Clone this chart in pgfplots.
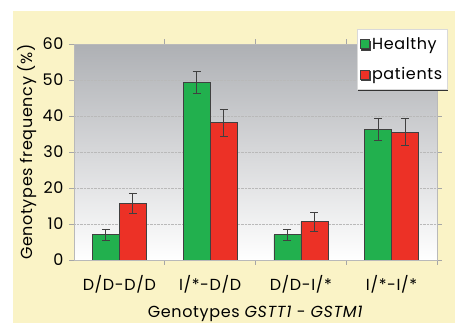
\documentclass[border=0pt]{standalone}
\usepackage{fontspec}
\setmainfont{Poppins}[LetterSpace=4]
\usepackage{pgfplots}
\pgfplotsset{compat=1.18}
\usetikzlibrary{shadows}
\definecolor{hgreen}{RGB}{34,176,78}
\definecolor{pred}{RGB}{236,49,38}
\definecolor{bgyellow}{RGB}{250,243,198}
\definecolor{plottop}{RGB}{174,176,180}
\begin{document}
\begin{tikzpicture}[x=1pt,y=1pt]
\fill[white] (0,0) rectangle (455,323);
\fill[bgyellow] (13,0) rectangle (455,312);
\begin{axis}[
  at={(74pt,63pt)}, anchor=south west,
  scale only axis, width=363pt, height=216pt,
  font=\fontsize{16}{18}\selectfont,
  /pgf/number format/assume math mode=true,
  axis background/.style={shade, top color=plottop, bottom color=white},
  axis line style={draw=gray!55},
  ybar=0pt, bar width=27pt,
  xmin=-0.5, xmax=3.5, ymin=0, ymax=60,
  ytick={0,10,...,60},
  xtick={0.5,1.5,2.5,3.5},
  xticklabels={},
  extra x ticks={0,1,2,3},
  extra x tick labels={D/D-D/D, I/*-D/D, D/D-I/*, I/*-I/*},
  extra x tick style={major tick length=0pt},
  tick align=outside,
  major tick length=5pt,
  tick style={draw=gray!70, line width=0.8pt},
  ymajorgrids,
  grid style={densely dotted, gray!55},
  xlabel={Genotypes \textit{GSTT1} - \textit{GSTM1}},
  ylabel={Genotypes frequency (\%)},
  xlabel style={yshift=-1pt},
  ylabel style={yshift=-1pt},
  xticklabel style={yshift=-12pt},
  yticklabel style={xshift=-2pt},
  legend style={at={(0.78,1.069)}, anchor=north west, fill=white, draw=gray!30,
    inner xsep=3pt, inner ysep=6pt, row sep=13pt,
    drop shadow={shadow xshift=1pt, shadow yshift=-1.5pt, fill=black!80, opacity=1}},
  legend cell align=left,
  legend image code/.code={\draw[#1, draw=black!75] (0pt,-4.5pt) rectangle (9pt,4.5pt);},
  error bars/error bar style={draw=black!75, line width=0.8pt},
  error bars/error mark options={rotate=90, mark size=4pt, draw=black!75, line width=0.8pt},
]
\addplot+[fill=hgreen, draw=black!75, line width=0.7pt,
  error bars/.cd, y dir=both, y explicit]
  coordinates {(0,7.0) +- (0,1.5) (1,49.4) +- (0,3.0) (2,7.0) +- (0,1.5) (3,36.2) +- (0,3.0)};
\addplot+[fill=pred, draw=black!75, line width=0.7pt,
  error bars/.cd, y dir=both, y explicit]
  coordinates {(0,15.7) +- (0,2.8) (1,38.1) +- (0,3.8) (2,10.6) +- (0,2.6) (3,35.5) +- (0,3.7)};
\legend{Healthy\hspace{30pt}, patients}
\end{axis}
\pgfresetboundingbox
\useasboundingbox (0,0) rectangle (455,323);
\end{tikzpicture}
\end{document}
